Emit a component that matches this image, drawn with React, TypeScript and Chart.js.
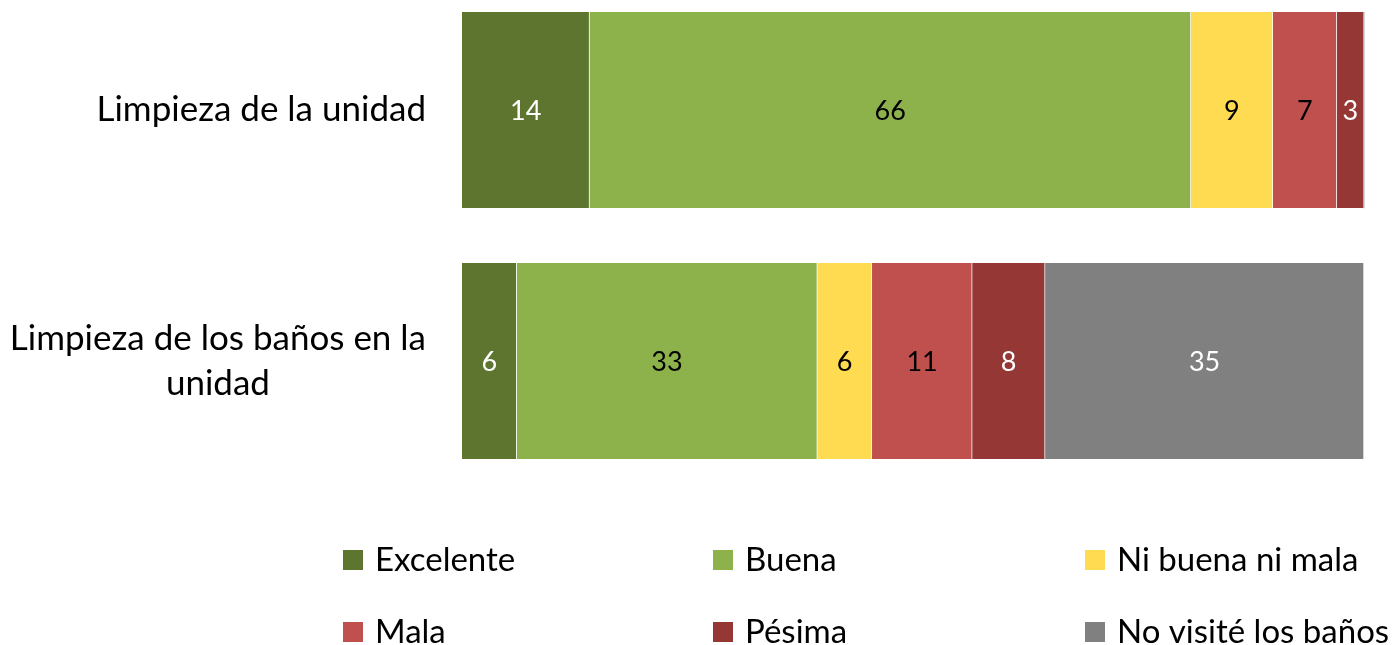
import React, { useEffect, useRef } from "react";
import { Chart, registerables } from "chart.js";

Chart.register(...registerables);

const categories: string[][] = [
  ["Limpieza de la unidad"],
  ["Limpieza de los baños en la", "unidad"],
];
const seriesNames = ["Excelente", "Buena", "Ni buena ni mala", "Mala", "Pésima", "No visité los baños"];
const excelente = [14, 6];
const buena = [66, 33];
const niBuenaNiMala = [9, 6];
const mala = [7, 11];
const pesima = [3, 8];
const noVisite = [0, 35];

const seriesValues = [excelente, buena, niBuenaNiMala, mala, pesima, noVisite];
const colors = ["#5E7530", "#8DB24B", "#FEDB50", "#C0504D", "#953735", "#808080"];
const labelColors = ["#FFFFFF", "#000000", "#000000", "#000000", "#FFFFFF", "#FFFFFF"];

const FONT = "Lato, 'Open Sans', sans-serif";

const categoryLabelPlugin = {
  id: "categoryLabels",
  afterDraw(chart: any) {
    const ctx = chart.ctx;
    const yScale = chart.scales.y;
    const right = chart.chartArea.left - 36;
    ctx.save();
    ctx.font = `35px ${FONT}`;
    ctx.fillStyle = "#000000";
    ctx.textBaseline = "middle";
    ctx.textAlign = "center";
    const lineH = 45;
    (chart.data.labels as string[][]).forEach((lines, i) => {
      const cy = yScale.getPixelForValue(i);
      const w = Math.max(...lines.map((l) => ctx.measureText(l).width));
      const cx = right - w / 2;
      const startY = cy - ((lines.length - 1) * lineH) / 2;
      lines.forEach((l, j) => ctx.fillText(l, cx, startY + j * lineH));
    });
    ctx.restore();
  },
};

const valueLabelPlugin = {
  id: "valueLabels",
  afterDatasetsDraw(chart: any) {
    const ctx = chart.ctx;
    ctx.save();
    ctx.font = `27px ${FONT}`;
    ctx.textAlign = "center";
    ctx.textBaseline = "middle";
    chart.data.datasets.forEach((ds: any, di: number) => {
      const meta = chart.getDatasetMeta(di);
      meta.data.forEach((bar: any, i: number) => {
        const v = ds.data[i];
        if (!v) return;
        ctx.fillStyle = labelColors[di];
        ctx.fillText(String(v), bar.x - (bar.x - bar.base) / 2, bar.y + 1);
      });
    });
    ctx.restore();
  },
};

const legendPlugin = {
  id: "gridLegend",
  afterDraw(chart: any) {
    const ctx = chart.ctx;
    const colX = [335, 705, 1077];
    const rowY = [552, 624];
    ctx.save();
    ctx.font = `33px ${FONT}`;
    ctx.textBaseline = "middle";
    ctx.textAlign = "left";
    chart.data.datasets.forEach((ds: any, i: number) => {
      const x = colX[i % 3];
      const y = rowY[Math.floor(i / 3)];
      ctx.fillStyle = ds.backgroundColor;
      ctx.fillRect(x, y - 10, 20, 20);
      ctx.fillStyle = "#000000";
      ctx.fillText(ds.label, x + 32, y);
    });
    ctx.restore();
  },
};

export default function App() {
  const ref = useRef<HTMLCanvasElement>(null);
  useEffect(() => {
    document.documentElement.style.overflow = "hidden";
    if (!ref.current) return;
    const totals = categories.map((_, i) => seriesValues.reduce((s, arr) => s + arr[i], 0));
    const chart = new Chart(ref.current, {
      type: "bar",
      data: {
        labels: categories as any,
        datasets: seriesNames.map((name, i) => ({
          label: name,
          data: seriesValues[i],
          backgroundColor: colors[i],
          borderColor: "rgba(255,255,255,0.3)",
          borderWidth: { left: 0, right: 1, top: 0, bottom: 0 },
          borderSkipped: false,
          barThickness: 196,
          clip: false as any,
        })),
      },
      options: {
        indexAxis: "y",
        responsive: false,
        animation: false,
        events: [],
        layout: { padding: { left: 454, right: 36, top: 102, bottom: 284 } },
        scales: {
          x: { stacked: true, display: false, min: 0, max: Math.max(...totals) },
          y: { stacked: true, display: false, offset: false },
        },
        plugins: { legend: { display: false }, tooltip: { enabled: false } },
      },
      plugins: [categoryLabelPlugin, valueLabelPlugin, legendPlugin],
    });
    return () => chart.destroy();
  }, []);
  return <canvas ref={ref} width={1392} height={637} style={{ display: "block" }} />;
}
